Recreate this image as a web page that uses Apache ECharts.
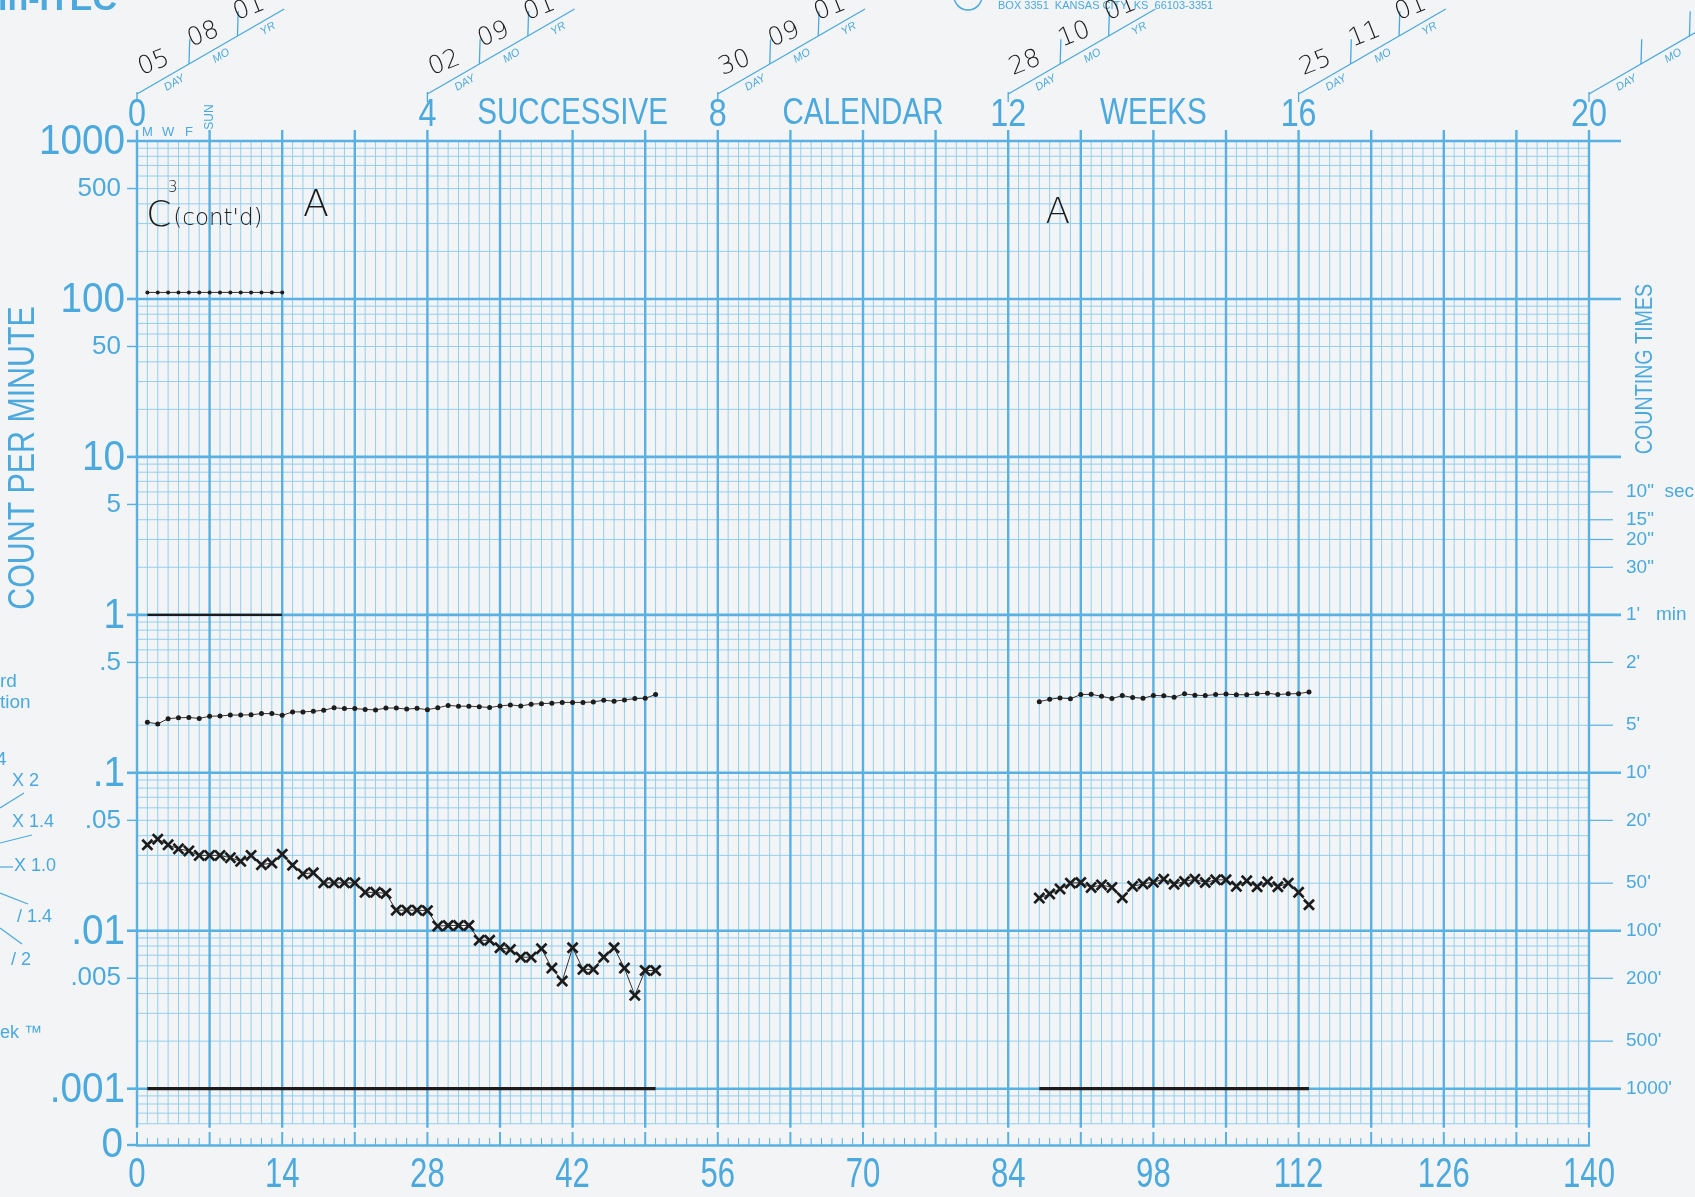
<!DOCTYPE html>
<html>
<head>
<meta charset="utf-8">
<script src="https://cdn.jsdelivr.net/npm/echarts@6/dist/echarts.min.js"></script>
<style>
  html, body { margin: 0; padding: 0; background: #f3f4f6; }
  #chart { width: 1695px; height: 1197px; }
</style>
</head>
<body>
<div id="chart"></div>
<script>
// ---- Daily counts per minute ----
const phase1Days = [1,2,3,4,5,6,7,8,9,10,11,12,13,14,15,16,17,18,19,20,21,22,23,24,25,26,27,28,29,30,31,32,33,34,35,36,37,38,39,40,41,42,43,44,45,46,47,48,49,50];
const phase1Dots = [0.209,0.204,0.220,0.223,0.224,0.221,0.228,0.229,0.232,0.232,0.233,0.237,0.237,0.231,0.243,0.243,0.245,0.249,0.258,0.255,0.255,0.252,0.250,0.257,0.257,0.253,0.256,0.251,0.258,0.267,0.264,0.264,0.262,0.259,0.265,0.269,0.265,0.272,0.274,0.276,0.279,0.279,0.279,0.281,0.288,0.284,0.289,0.295,0.296,0.313];
const phase1Crosses = [0.035,0.038,0.035,0.033,0.032,0.030,0.030,0.030,0.029,0.0275,0.030,0.0262,0.0268,0.0305,0.026,0.0229,0.0233,0.0201,0.0201,0.0201,0.0201,0.0175,0.0175,0.0172,0.0135,0.0135,0.0135,0.0134,0.0107,0.0108,0.0108,0.0108,0.0087,0.0087,0.0078,0.0076,0.0068,0.0068,0.0077,0.0058,0.0048,0.0078,0.0057,0.0057,0.0068,0.0078,0.0058,0.0039,0.0056,0.0056];

const phase2Days = [87,88,89,90,91,92,93,94,95,96,97,98,99,100,101,102,103,104,105,106,107,108,109,110,111,112,113];
const phase2Dots = [0.282,0.292,0.298,0.294,0.313,0.314,0.305,0.295,0.308,0.300,0.296,0.309,0.307,0.301,0.316,0.310,0.308,0.313,0.315,0.312,0.312,0.316,0.319,0.313,0.316,0.317,0.325];
const phase2Crosses = [0.0161,0.0171,0.0184,0.0200,0.0202,0.0188,0.0195,0.0188,0.0162,0.0191,0.0198,0.0203,0.0212,0.0197,0.0205,0.0212,0.0202,0.0210,0.0210,0.0191,0.0207,0.0190,0.0204,0.0190,0.0200,0.0175,0.0146];

const warmupDays = [1,2,3,4,5,6,7,8,9,10,11,12,13,14];
const warmupDots = [110,110,110,110,110,110,110,110,110,110,110,110,110,110];
const unitLineDays = [1, 14];
const unitLineVals = [1, 1];

const floorDaysA = [1, 50];
const floorDaysB = [87, 113];
const floorVals = [0.001, 0.001];

// ---- Axis texts ----
const dayLabels = ['0','14','28','42','56','70','84','98','112','126','140'];
const weekLabels = ['0','4','8','12','16','20'];
const weekWords = ['SUCCESSIVE','CALENDAR','WEEKS'];
const rateVals = [1000,500,100,50,10,5,1,0.5,0.1,0.05,0.01,0.005,0.001];
const rateTexts = ['1000','500','100','50','10','5','1','.5','.1','.05','.01','.005','.001'];
const timeVals = [6,4,3,2,1,0.5,0.2,0.1,0.05,0.02,0.01,0.005,0.002,0.001];
const timeTexts = ['10"  sec','15"','20"','30"',"1'   min","2'","5'","10'","20'","50'","100'","200'","500'","1000'"];
const weekdayTexts = ['M','W','F'];
const weekdayDays = [1,3,5];
const stampDay = ['05','02','30','28','25',''];
const stampMonth = ['08','09','09','10','11',''];
const stampYear = ['01','01','01','01','01',''];

// ---- Look ----
const BLUE = '#4ba9dd';
const LINE_MAJOR = '#58b1e2';
const LINE_MINOR = '#93cfee';
const INK = '#1c1c1c';
const SANS = '"Liberation Sans",Arial,sans-serif';
const HAND = '"DejaVu Sans","Noto Sans",sans-serif';
const ZERO_ROW = 0.00044;   // the "0" row below the lowest decade
const GRID_FLOOR = 0.0006;  // where the ruled area stops

const CROSS = 'path://M0,1.6L1.6,0L5,3.4L8.4,0L10,1.6L6.6,5L10,8.4L8.4,10L5,6.6L1.6,10L0,8.4L3.4,5Z';

function pairs(xs, ys) { return xs.map((x, i) => [x, ys[i]]); }

// The ruled chart paper: grid, scale labels, date stamps, notes
function renderPaper(params, api) {
  const X = d => api.coord([d, 1])[0];
  const Y = v => api.coord([0, v])[1];
  const x0 = X(0), x1 = X(140);
  const yTop = Y(1000), yBot = Y(GRID_FLOOR), yZero = Y(ZERO_ROW);
  const kids = [];
  const ln = (ax, ay, bx, by, w, c) => kids.push({ type: 'line', silent: true,
    shape: { x1: ax, y1: ay, x2: bx, y2: by }, style: { stroke: c, lineWidth: w } });
  // text helper; sx < 1 gives the condensed lettering of the printed paper
  const tx = (s, x, y, o, sx, rot) => kids.push({ type: 'text', x: x, y: y, silent: true,
    scaleX: sx || 1, rotation: rot || 0,
    style: Object.assign({ text: s, fill: BLUE, textAlign: 'center', textVerticalAlign: 'middle',
      align: 'center', verticalAlign: 'middle', fontFamily: SANS, fontSize: 14 }, o) });
  const leftAl = { textAlign: 'left', align: 'left' };
  const rightAl = { textAlign: 'right', align: 'right' };

  // horizontal rules
  const rows = [];
  for (let e = -4; e <= 2; e++) {
    for (let k = 1; k <= 9; k++) {
      const v = k * Math.pow(10, e);
      if (v >= GRID_FLOOR * 0.999) rows.push({ v: v, major: k === 1 });
    }
  }
  rows.push({ v: 1000, major: true });
  rows.filter(r => !r.major).forEach(r => ln(x0, Y(r.v), x1, Y(r.v), 1, LINE_MINOR));

  // day rules and Sunday rules
  for (let d = 0; d <= 140; d++) if (d % 7) ln(X(d), yTop, X(d), yBot, 1, LINE_MINOR);
  for (let d = 0; d <= 140; d += 7) ln(X(d), yTop - 11, X(d), yBot + 4, 2.4, LINE_MAJOR);
  rows.filter(r => r.major).forEach(r => ln(x0, Y(r.v), x1 + 32, Y(r.v), 2.6, LINE_MAJOR));

  // ticks on the zero row
  for (let d = 0; d <= 140; d++) {
    const len = d % 7 === 0 ? 13 : 7;
    ln(X(d), yZero, X(d), yZero - len, d % 7 === 0 ? 2 : 1, LINE_MAJOR);
  }
  ln(x0 - 10, yZero, x0, yZero, 2.4, LINE_MAJOR);

  // bottom day scale
  dayLabels.forEach((s, i) => tx(s, X(i * 14), yZero + 30, { fontSize: 42 }, 0.74));

  // left rate scale
  rateVals.forEach((v, i) => {
    const big = Math.abs(Math.log10(v) - Math.round(Math.log10(v))) < 1e-9;
    ln(x0 - 10, Y(v), x0, Y(v), big ? 2.6 : 1.4, LINE_MAJOR);
    tx(rateTexts[i], x0 - (big ? 12 : 16), Y(v) + (big ? 1 : 0),
      Object.assign({ fontSize: big ? 43 : 26 }, rightAl), big ? 0.9 : 1);
  });
  tx('0', x0 - 14, yZero, Object.assign({ fontSize: 43 }, rightAl), 0.9);

  // right counting-time scale
  timeVals.forEach((v, i) => {
    ln(x1, Y(v), x1 + 24, Y(v), 1.2, LINE_MAJOR);
    tx(timeTexts[i], x1 + 37, Y(v), Object.assign({ fontSize: 19 }, leftAl));
  });
  tx('COUNTING TIMES', x1 + 56, Y(36), { fontSize: 24 }, 0.82, Math.PI / 2);

  // top week scale
  weekLabels.forEach((w, i) => tx(w, X(i * 28), yTop - 25, { fontSize: 38 }, 0.85));
  weekWords.forEach((w, i) => tx(w, X(42 + i * 28), yTop - 27, { fontSize: 37 }, 0.8));
  weekdayTexts.forEach((w, i) => tx(w, X(weekdayDays[i]), yTop - 9, { fontSize: 13 }));
  tx('SUN', X(7), yTop - 24, { fontSize: 12 }, 1, Math.PI / 2);

  // date stamps above each fourth week
  weekLabels.forEach((w, i) => {
    const ox = X(i * 28), oy = yTop - 47;
    ln(ox, oy - 2, ox, oy + 8, 1.3, BLUE);
    const g = [];
    g.push({ type: 'line', shape: { x1: 0, y1: 0, x2: 170, y2: 0 }, style: { stroke: BLUE, lineWidth: 1.3 } });
    [60, 116].forEach(t => g.push({ type: 'line', shape: { x1: t, y1: 0, x2: t + 13, y2: -21 },
      style: { stroke: BLUE, lineWidth: 1.3 } }));
    [['DAY', 38], ['MO', 92], ['YR', 146]].forEach(p => g.push({ type: 'text', x: p[1], y: 9,
      style: { text: p[0], fill: BLUE, fontFamily: SANS, fontSize: 11, fontStyle: 'italic',
        textAlign: 'center', textVerticalAlign: 'middle', align: 'center', verticalAlign: 'middle' } }));
    [[stampDay[i], 30], [stampMonth[i], 87], [stampYear[i], 140]].forEach(p => g.push({ type: 'text',
      x: p[1], y: -18, rotation: -0.15,
      style: { text: p[0], fill: INK, fontFamily: HAND, fontSize: 25, fontWeight: 300,
        textAlign: 'center', textVerticalAlign: 'middle', align: 'center', verticalAlign: 'middle' } }));
    kids.push({ type: 'group', x: ox, y: oy, rotation: Math.PI / 6, children: g, silent: true });
  });

  // handwritten phase notes
  const note = (s, x, y, size) => kids.push({ type: 'text', x: x, y: y, silent: true,
    style: { text: s, fill: INK, fontFamily: HAND, fontSize: size, fontWeight: 300,
      textAlign: 'left', textVerticalAlign: 'middle', align: 'left', verticalAlign: 'middle' } });
  note('C', X(0.9), Y(330), 36);
  note('3', X(3.0), Y(500), 15);
  note("(cont'd)", X(3.5), Y(320), 23);
  note('A', X(16.0), Y(385), 38);
  note('A', X(87.6), Y(345), 36);

  return { type: 'group', children: kids };
}

const lineBase = { type: 'line', z: 5, silent: true, animation: false, xAxisIndex: 0, yAxisIndex: 0 };

const option = {
  animation: false,
  backgroundColor: '#f3f4f6',
  grid: { left: 137, right: 106, top: 141, bottom: 52, containLabel: false },
  xAxis: [{
    type: 'value', min: 0, max: 140, interval: 14, position: 'bottom',
    axisLine: { show: true, lineStyle: { color: LINE_MAJOR, width: 2.6 } },
    axisTick: { show: false },
    splitLine: { show: false },
    axisLabel: { show: false }
  }],
  yAxis: [{ type: 'log', logBase: 10, min: ZERO_ROW, max: 1000, show: false }],
  graphic: [
    { type: 'text', left: -2, top: -16, style: { text: 'in-ITEC', fill: BLUE, font: 'bold 34px ' + SANS } },
    { type: 'circle', shape: { cx: 968, cy: -4, r: 14 }, style: { fill: 'none', stroke: BLUE, lineWidth: 1.5 } },
    { type: 'text', left: 998, top: 0, style: { text: 'BOX 3351  KANSAS CITY  KS  66103-3351', fill: BLUE, font: '11px ' + SANS } },
    { type: 'text', x: 24, y: 458, rotation: Math.PI / 2, scaleX: 0.82,
      style: { text: 'COUNT PER MINUTE', fill: BLUE, font: '37px ' + SANS, textAlign: 'center', textVerticalAlign: 'middle' } },
    // celeration fan on the left margin
    { type: 'text', left: 0, top: 672, style: { text: 'rd', fill: BLUE, font: '19px ' + SANS } },
    { type: 'text', left: 0, top: 693, style: { text: 'tion', fill: BLUE, font: '19px ' + SANS } },
    { type: 'text', left: -4, top: 750, style: { text: '4', fill: BLUE, font: '19px ' + SANS } },
    { type: 'text', left: 12, top: 772, style: { text: 'X 2', fill: BLUE, font: '18px ' + SANS } },
    { type: 'text', left: 12, top: 813, style: { text: 'X 1.4', fill: BLUE, font: '18px ' + SANS } },
    { type: 'text', left: 14, top: 857, style: { text: 'X 1.0', fill: BLUE, font: '18px ' + SANS } },
    { type: 'text', left: 17, top: 908, style: { text: '/ 1.4', fill: BLUE, font: '18px ' + SANS } },
    { type: 'text', left: 11, top: 951, style: { text: '/ 2', fill: BLUE, font: '18px ' + SANS } },
    { type: 'text', left: 0, top: 1024, style: { text: 'ek ™', fill: BLUE, font: '18px ' + SANS } },
    { type: 'line', shape: { x1: 0, y1: 808, x2: 24, y2: 793 }, style: { stroke: BLUE, lineWidth: 1.2 } },
    { type: 'line', shape: { x1: 0, y1: 843, x2: 32, y2: 835 }, style: { stroke: BLUE, lineWidth: 1.2 } },
    { type: 'line', shape: { x1: 0, y1: 867, x2: 13, y2: 867 }, style: { stroke: BLUE, lineWidth: 1.2 } },
    { type: 'line', shape: { x1: 0, y1: 893, x2: 28, y2: 904 }, style: { stroke: BLUE, lineWidth: 1.2 } },
    { type: 'line', shape: { x1: 0, y1: 928, x2: 22, y2: 944 }, style: { stroke: BLUE, lineWidth: 1.2 } }
  ],
  series: [
    { type: 'custom', z: 1, silent: true, animation: false, clip: false,
      renderItem: renderPaper, data: [[0, 1]] },
    Object.assign({}, lineBase, { name: 'warmup', data: pairs(warmupDays, warmupDots),
      symbol: 'circle', symbolSize: 4, itemStyle: { color: INK }, lineStyle: { color: '#333', width: 1 } }),
    Object.assign({}, lineBase, { name: 'unit', data: pairs(unitLineDays, unitLineVals),
      symbol: 'none', lineStyle: { color: INK, width: 2.4 } }),
    Object.assign({}, lineBase, { name: 'floorA', data: pairs(floorDaysA, floorVals),
      symbol: 'none', lineStyle: { color: INK, width: 3.2 } }),
    Object.assign({}, lineBase, { name: 'floorB', data: pairs(floorDaysB, floorVals),
      symbol: 'none', lineStyle: { color: INK, width: 3.2 } }),
    Object.assign({}, lineBase, { name: 'dots1', data: pairs(phase1Days, phase1Dots),
      symbol: 'circle', symbolSize: 5, itemStyle: { color: INK }, lineStyle: { color: '#333', width: 1 } }),
    Object.assign({}, lineBase, { name: 'cross1', data: pairs(phase1Days, phase1Crosses),
      symbol: CROSS, symbolSize: 12, itemStyle: { color: INK }, lineStyle: { color: '#333', width: 1 } }),
    Object.assign({}, lineBase, { name: 'dots2', data: pairs(phase2Days, phase2Dots),
      symbol: 'circle', symbolSize: 5, itemStyle: { color: INK }, lineStyle: { color: '#333', width: 1 } }),
    Object.assign({}, lineBase, { name: 'cross2', data: pairs(phase2Days, phase2Crosses),
      symbol: CROSS, symbolSize: 12, itemStyle: { color: INK }, lineStyle: { color: '#333', width: 1 } })
  ]
};

const chart = echarts.init(document.getElementById('chart'));
chart.setOption(option);
</script>
</body>
</html>
